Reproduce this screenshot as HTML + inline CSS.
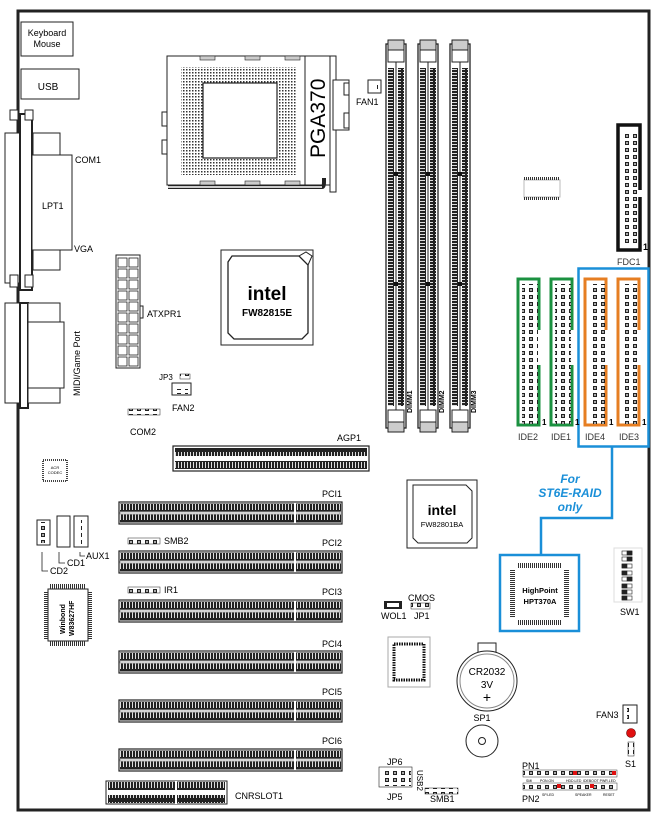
<!DOCTYPE html>
<html><head><meta charset="utf-8"><style>
html,body{margin:0;padding:0;background:#fff;}
svg{display:block;font-family:"Liberation Sans",sans-serif;}
</style></head><body>
<svg width="664" height="826" viewBox="0 0 664 826" xmlns="http://www.w3.org/2000/svg">
<defs>
<pattern id="teethH" patternUnits="userSpaceOnUse" width="3" height="10"><rect width="3" height="10" fill="#222"/><rect x="1" y="2" width="1" height="6" fill="#ddd"/></pattern>
<pattern id="teethV" patternUnits="userSpaceOnUse" width="8" height="3"><rect width="8" height="3" fill="#222"/><rect x="1" y="1" width="6" height="1" fill="#ddd"/></pattern>
<pattern id="pins" patternUnits="userSpaceOnUse" width="8" height="7"><rect x="1" y="1" width="4" height="4" fill="#222"/><rect x="2" y="2" width="2" height="2" fill="#aaa"/></pattern>
<pattern id="dots" patternUnits="userSpaceOnUse" width="3" height="3"><rect width="1.5" height="1.5" fill="#333"/></pattern>
<pattern id="legs" patternUnits="userSpaceOnUse" width="2" height="2"><rect width="1" height="2" fill="#333"/></pattern>
<pattern id="legsV" patternUnits="userSpaceOnUse" width="2" height="2"><rect width="2" height="1" fill="#333"/></pattern>
<g id="pci">
<rect x="0" y="0" width="223" height="22" fill="#fff" stroke="#222" stroke-width="1.2"/>
<rect x="1" y="1.5" width="221" height="8" fill="url(#teethH)"/>
<rect x="1" y="12.5" width="221" height="8" fill="url(#teethH)"/>
<rect x="1" y="10" width="220" height="2" fill="#fff" stroke="#555" stroke-width="0.5"/>
<rect x="175" y="1" width="2" height="20" fill="#fff"/>
</g>
<g id="dimm">
<rect x="0" y="0" width="20" height="384" fill="#fff" stroke="#222" stroke-width="1.3"/>
<rect x="2" y="-4" width="16" height="10" fill="#ccc" stroke="#222"/>
<rect x="2" y="378" width="16" height="10" fill="#ccc" stroke="#222"/>
<rect x="2" y="6" width="16" height="12" fill="#fff" stroke="#222"/>
<rect x="2" y="366" width="16" height="12" fill="#fff" stroke="#222"/>
<rect x="2" y="24" width="6" height="338" fill="url(#teethV)"/>
<rect x="12" y="24" width="6" height="338" fill="url(#teethV)"/>
<line x1="10" y1="18" x2="10" y2="366" stroke="#222"/>
<rect x="8" y="128" width="4" height="4" fill="#111"/>
<rect x="8" y="238" width="4" height="4" fill="#111"/>
</g>
</defs>

<!-- board outline -->
<path d="M18,810 L18,11 L649,11 L649,810 Z" fill="none" stroke="#222" stroke-width="3"/>

<!-- left IO -->
<rect x="21" y="22" width="52" height="34" fill="#fff" stroke="#222"/>
<text x="47" y="36" font-size="9" text-anchor="middle">Keyboard</text>
<text x="47" y="47" font-size="9" text-anchor="middle">Mouse</text>
<rect x="21" y="69" width="58" height="30" fill="#fff" stroke="#222"/>
<text x="48" y="90" font-size="10" text-anchor="middle">USB</text>

<rect x="5" y="133" width="15" height="150" fill="#fff" stroke="#222"/>
<rect x="20" y="114" width="12" height="176" fill="#fff" stroke="#222" stroke-width="2"/>
<rect x="10" y="110" width="8" height="10" fill="#fff" stroke="#222"/>
<rect x="25" y="110" width="8" height="10" fill="#fff" stroke="#222"/>
<rect x="10" y="275" width="8" height="12" fill="#fff" stroke="#222"/>
<rect x="25" y="275" width="8" height="12" fill="#fff" stroke="#222"/>
<rect x="33" y="133" width="27" height="22" fill="#fff" stroke="#222"/>
<rect x="33" y="250" width="27" height="20" fill="#fff" stroke="#222"/>
<rect x="32" y="155" width="40" height="95" fill="#fff" stroke="#222"/>
<text x="75" y="163" font-size="9">COM1</text>
<text x="42" y="209" font-size="9">LPT1</text>
<text x="74" y="252" font-size="9">VGA</text>

<rect x="5" y="303" width="16" height="100" fill="#fff" stroke="#222"/>
<rect x="20" y="303" width="8" height="105" fill="#fff" stroke="#222" stroke-width="2"/>
<rect x="28" y="303" width="32" height="100" fill="#fff" stroke="#222"/>
<rect x="28" y="322" width="36" height="66" fill="#fff" stroke="#222"/>
<text transform="translate(80,396) rotate(-90)" font-size="9">MIDI/Game Port</text>

<!-- CPU socket -->
<rect x="167" y="56" width="138" height="129" fill="#fff" stroke="#222"/>
<rect x="181" y="67" width="116" height="108" fill="url(#dots)"/>
<rect x="203" y="83" width="74" height="75" fill="#fff" stroke="#222" stroke-width="1.2"/>
<rect x="200" y="56" width="15" height="4" fill="#ccc" stroke="#222" stroke-width="0.6"/>
<rect x="245" y="56" width="15" height="4" fill="#ccc" stroke="#222" stroke-width="0.6"/>
<rect x="285" y="56" width="15" height="4" fill="#ccc" stroke="#222" stroke-width="0.6"/>
<rect x="200" y="181" width="15" height="4" fill="#ccc" stroke="#222" stroke-width="0.6"/>
<rect x="245" y="181" width="15" height="4" fill="#ccc" stroke="#222" stroke-width="0.6"/>
<rect x="285" y="181" width="15" height="4" fill="#ccc" stroke="#222" stroke-width="0.6"/>
<rect x="162" y="112" width="5" height="14" fill="#fff" stroke="#222"/>
<rect x="162" y="140" width="5" height="14" fill="#fff" stroke="#222"/>
<rect x="305" y="56" width="25" height="129" fill="#fff" stroke="#222"/>
<rect x="330" y="56" width="6" height="136" fill="#fff" stroke="#222"/>
<rect x="333" y="80" width="16" height="50" fill="#fff" stroke="#222"/>
<rect x="344" y="83" width="5" height="12" fill="#fff" stroke="#222"/>
<rect x="344" y="113" width="5" height="15" fill="#fff" stroke="#222"/>
<path d="M168,187 L322,187 Q324,187 324,182 L324,178" fill="none" stroke="#222" stroke-width="4"/>
<path d="M168,187 L322,187" stroke="#ccc" stroke-width="2"/>
<text transform="translate(325,158) rotate(-90)" font-size="21">PGA370</text>
<rect x="368" y="80" width="13" height="13" fill="#fff" stroke="#222"/>
<rect x="373" y="82" width="5" height="9" fill="url(#pins)"/>
<text x="356" y="105" font-size="9">FAN1</text>

<!-- DIMMs -->
<use href="#dimm" x="386" y="44"/>
<use href="#dimm" x="418" y="44"/>
<use href="#dimm" x="450" y="44"/>
<text transform="translate(412,413) rotate(-90)" font-size="7" font-weight="bold">DIMM1</text>
<text transform="translate(444,413) rotate(-90)" font-size="7" font-weight="bold">DIMM2</text>
<text transform="translate(476,413) rotate(-90)" font-size="7" font-weight="bold">DIMM3</text>

<!-- small chip -->
<rect x="524" y="180" width="36" height="17" fill="#fff" stroke="#bbb"/>
<rect x="524" y="177" width="36" height="3" fill="url(#legs)"/>
<rect x="524" y="197" width="36" height="3" fill="url(#legs)"/>

<!-- FDC1 -->
<path d="M640,190 L640,125 L618,125 L618,250 L640,250 L640,197" fill="none" stroke="#111" stroke-width="3.5"/>
<rect x="622" y="133" width="16" height="112" fill="url(#pins)"/>
<text x="643" y="250" font-size="9" font-weight="bold">1</text>
<text x="617" y="265" font-size="9" fill="#333">FDC1</text>

<!-- IDE -->
<rect x="578.5" y="268.5" width="70" height="178" fill="none" stroke="#1a8fd8" stroke-width="2.5"/>
<g fill="none" stroke-width="3">
<path d="M539,330 L539,279 L518,279 L518,425 L539,425 L539,365" stroke="#1b9140"/>
<path d="M572,330 L572,279 L551,279 L551,425 L572,425 L572,365" stroke="#1b9140"/>
<path d="M606,330 L606,279 L585,279 L585,425 L606,425 L606,365" stroke="#e67e22"/>
<path d="M639,330 L639,279 L618,279 L618,425 L639,425 L639,365" stroke="#e67e22"/>
</g>
<rect x="522" y="284" width="16" height="140" fill="url(#pins)"/>
<rect x="555" y="284" width="16" height="140" fill="url(#pins)"/>
<rect x="589" y="284" width="16" height="140" fill="url(#pins)"/>
<rect x="622" y="284" width="16" height="140" fill="url(#pins)"/>
<g font-size="8" font-weight="bold"><text x="542" y="425">1</text><text x="575" y="425">1</text><text x="609" y="425">1</text><text x="642" y="425">1</text></g>
<g font-size="9" fill="#333"><text x="518" y="440">IDE2</text><text x="551" y="440">IDE1</text><text x="585" y="440">IDE4</text><text x="619" y="440">IDE3</text></g>
<path d="M612,447 L612,518 L541,518 L541,555" fill="none" stroke="#1a8fd8" stroke-width="2.5"/>
<g fill="#1a8fd8" font-size="12" font-weight="bold" font-style="italic" text-anchor="middle">
<text x="570" y="483">For</text><text x="570" y="497">ST6E-RAID</text><text x="570" y="511">only</text></g>
<rect x="500" y="555" width="79" height="76" fill="#fff" stroke="#1a8fd8" stroke-width="2.5"/>
<rect x="517" y="566" width="45" height="56" fill="#fff"/>
<rect x="517" y="563" width="45" height="5" fill="url(#legs)"/>
<rect x="517" y="620" width="45" height="5" fill="url(#legs)"/>
<rect x="510" y="570" width="5" height="48" fill="url(#legsV)"/>
<rect x="564" y="570" width="5" height="48" fill="url(#legsV)"/>
<text x="540" y="593" font-size="7.5" font-weight="bold" text-anchor="middle">HighPoint</text>
<text x="540" y="604" font-size="7.5" font-weight="bold" text-anchor="middle">HPT370A</text>

<!-- intel 815 -->
<rect x="221" y="250" width="92" height="95" fill="#fff" stroke="#222"/>
<path d="M232,256 L299,256 L308,265 L308,333 L302,339 L234,339 L228,333 L228,262 Z" fill="#fff" stroke="#222" stroke-width="1.3"/>
<path d="M299,256 L306,252 L312,256 L308,265" fill="none" stroke="#222"/>
<text x="267" y="300" font-size="19" font-weight="bold" text-anchor="middle">intel</text>
<text x="267" y="316" font-size="10" font-weight="bold" text-anchor="middle">FW82815E</text>

<!-- intel 801 -->
<rect x="407" y="480" width="70" height="68" fill="#fff" stroke="#222"/>
<path d="M413,485 L466,485 L472,491 L472,538 L467,543 L418,543 L413,538 Z" fill="#fff" stroke="#222"/>
<text x="442" y="515" font-size="14" font-weight="bold" text-anchor="middle">intel</text>
<text x="442" y="527" font-size="7.5" text-anchor="middle">FW82801BA</text>

<!-- ATXPR1 -->
<rect x="116" y="255" width="24" height="113" fill="#fff" stroke="#222"/>
<rect x="140" y="306" width="3" height="12" fill="#fff" stroke="#222"/>
<g fill="#fff" stroke="#222" stroke-width="0.8">
<rect x="118" y="258" width="9" height="9"/><rect x="129" y="258" width="9" height="9"/>
<rect x="118" y="269" width="9" height="9"/><rect x="129" y="269" width="9" height="9"/>
<rect x="118" y="280" width="9" height="9"/><rect x="129" y="280" width="9" height="9"/>
<rect x="118" y="291" width="9" height="9"/><rect x="129" y="291" width="9" height="9"/>
<rect x="118" y="302" width="9" height="9"/><rect x="129" y="302" width="9" height="9"/>
<rect x="118" y="313" width="9" height="9"/><rect x="129" y="313" width="9" height="9"/>
<rect x="118" y="324" width="9" height="9"/><rect x="129" y="324" width="9" height="9"/>
<rect x="118" y="335" width="9" height="9"/><rect x="129" y="335" width="9" height="9"/>
<rect x="118" y="346" width="9" height="9"/><rect x="129" y="346" width="9" height="9"/>
<rect x="118" y="357" width="9" height="9"/><rect x="129" y="357" width="9" height="9"/>
</g>
<text x="147" y="317" font-size="9">ATXPR1</text>

<text x="159" y="380" font-size="8">JP3</text>
<rect x="180" y="374" width="10" height="5" fill="url(#pins)" stroke="#222" stroke-width="0.5"/>
<rect x="172" y="383" width="19" height="12" fill="#fff" stroke="#222"/>
<rect x="175" y="389" width="13" height="5" fill="url(#pins)"/>
<text x="172" y="411" font-size="9">FAN2</text>
<rect x="128" y="409" width="32" height="6" fill="url(#pins)" stroke="#222" stroke-width="0.5"/>
<text x="130" y="435" font-size="9">COM2</text>

<!-- AGP -->
<text x="337" y="441" font-size="9">AGP1</text>
<rect x="173" y="446" width="196" height="25" fill="#fff" stroke="#222" stroke-width="1.2"/>
<rect x="175" y="448" width="192" height="8" fill="url(#teethH)"/>
<rect x="175" y="461" width="192" height="8" fill="url(#teethH)"/>

<!-- PCI -->
<g font-size="9" text-anchor="end">
<text x="342" y="497">PCI1</text><text x="342" y="546">PCI2</text><text x="342" y="595">PCI3</text>
<text x="342" y="647">PCI4</text><text x="342" y="695">PCI5</text><text x="342" y="744">PCI6</text></g>
<use href="#pci" x="119" y="502"/>
<use href="#pci" x="119" y="551"/>
<use href="#pci" x="119" y="600"/>
<use href="#pci" x="119" y="651"/>
<use href="#pci" x="119" y="700"/>
<use href="#pci" x="119" y="749"/>

<!-- CNR -->
<rect x="106" y="781" width="121" height="23" fill="#fff" stroke="#222"/>
<rect x="108" y="782" width="117" height="8" fill="url(#teethH)"/>
<rect x="108" y="795" width="117" height="8" fill="url(#teethH)"/>
<rect x="175" y="781" width="2" height="23" fill="#fff"/>
<text x="235" y="799" font-size="9">CNRSLOT1</text>

<!-- ACR chip -->
<rect x="43" y="460" width="24" height="21" fill="#fff" stroke="#444" stroke-width="2" stroke-dasharray="1,1"/>
<text x="55" y="469" font-size="4" text-anchor="middle">ACR</text>
<text x="55" y="474" font-size="4" text-anchor="middle">CODEC</text>

<!-- CD / AUX -->
<rect x="37" y="520" width="13" height="25" fill="#fff" stroke="#222"/>
<rect x="57" y="516" width="13" height="31" fill="#fff" stroke="#222"/>
<rect x="74" y="516" width="14" height="31" fill="#fff" stroke="#222"/>
<rect x="41" y="522" width="4" height="21" fill="url(#pins)"/>
<rect x="61" y="520" width="4" height="24" fill="url(#pins)"/>
<rect x="78" y="520" width="4" height="24" fill="url(#pins)"/>
<path d="M42,552 L42,571 L48,571 M59,552 L59,563 L65,563 M80,552 L80,556 L85,556" fill="none" stroke="#222" stroke-width="0.8"/>
<text x="50" y="574" font-size="9">CD2</text><text x="67" y="566" font-size="9">CD1</text><text x="86" y="559" font-size="9">AUX1</text>

<!-- Winbond -->
<rect x="48" y="589" width="40" height="52" fill="#fff" stroke="#222"/>
<rect x="50" y="584" width="36" height="5" fill="url(#legs)"/>
<rect x="50" y="641" width="36" height="5" fill="url(#legs)"/>
<rect x="44" y="591" width="4" height="48" fill="url(#legsV)"/>
<rect x="88" y="591" width="4" height="48" fill="url(#legsV)"/>
<text transform="translate(65,634) rotate(-90)" font-size="7" font-weight="bold">Winbond</text>
<text transform="translate(74,636) rotate(-90)" font-size="7" font-weight="bold">W83627HF</text>

<!-- SMB2 IR1 -->
<rect x="128" y="538" width="32" height="6" fill="url(#pins)" stroke="#222" stroke-width="0.5"/>
<text x="164" y="544" font-size="9">SMB2</text>
<rect x="128" y="587" width="32" height="6" fill="url(#pins)" stroke="#222" stroke-width="0.5"/>
<text x="164" y="593" font-size="9">IR1</text>

<!-- WOL / JP1 -->
<text x="408" y="601" font-size="9">CMOS</text>
<rect x="384" y="601" width="18" height="8" fill="#222"/>
<rect x="387" y="603" width="12" height="4" fill="#fff"/>
<rect x="411" y="603" width="19" height="6" fill="url(#pins)" stroke="#222" stroke-width="0.5"/>
<text x="381" y="619" font-size="9">WOL1</text>
<text x="414" y="619" font-size="9">JP1</text>

<!-- square chip -->
<rect x="388" y="637" width="42" height="50" fill="#fff" stroke="#aaa" stroke-width="1"/>
<rect x="394" y="644" width="30" height="36" fill="#fff" stroke="#111" stroke-width="3" stroke-dasharray="1.5,1"/>

<!-- battery -->
<path d="M478,652 L478,643 L496,643 L496,652" fill="none" stroke="#222"/>
<circle cx="487" cy="681" r="30" fill="#fff" stroke="#222"/>
<circle cx="487" cy="681" r="27" fill="none" stroke="#888"/>
<text x="487" y="675" font-size="10" text-anchor="middle">CR2032</text>
<text x="487" y="688" font-size="10" text-anchor="middle">3V</text>
<text x="487" y="702" font-size="14" text-anchor="middle">+</text>
<text x="482" y="721" font-size="9" text-anchor="middle">SP1</text>
<circle cx="482" cy="741" r="16" fill="#fff" stroke="#222"/>
<circle cx="482" cy="741" r="3.5" fill="none" stroke="#222"/>

<!-- SW1 -->
<rect x="614" y="548" width="28" height="54" fill="#fff" stroke="#ddd"/>
<g fill="#222" stroke="#222" stroke-width="0.6">
<rect x="622" y="551" width="10" height="4" fill="#fff"/><rect x="627" y="551" width="5" height="4"/>
<rect x="622" y="557" width="10" height="4" fill="#fff"/><rect x="627" y="557" width="5" height="4"/>
<rect x="622" y="564" width="10" height="4" fill="#fff"/><rect x="622" y="564" width="5" height="4"/>
<rect x="622" y="571" width="10" height="4" fill="#fff"/><rect x="622" y="571" width="5" height="4"/>
<rect x="622" y="577" width="10" height="4" fill="#fff"/><rect x="627" y="577" width="5" height="4"/>
<rect x="622" y="584" width="10" height="4" fill="#fff"/><rect x="622" y="584" width="5" height="4"/>
<rect x="622" y="590" width="10" height="4" fill="#fff"/><rect x="622" y="590" width="5" height="4"/>
<rect x="622" y="596" width="10" height="4" fill="#fff"/><rect x="622" y="596" width="5" height="4"/>
</g>
<text x="620" y="615" font-size="9">SW1</text>

<!-- FAN3 / S1 -->
<text x="596" y="718" font-size="9">FAN3</text>
<rect x="623" y="705" width="14" height="18" fill="#fff" stroke="#222"/>
<rect x="627" y="708" width="4" height="13" fill="url(#pins)"/>
<circle cx="631" cy="733" r="4.5" fill="#e01010" stroke="#600" stroke-width="0.6"/>
<rect x="628" y="742" width="6" height="14" fill="url(#pins)" stroke="#222" stroke-width="0.5"/>
<text x="625" y="767" font-size="9">S1</text>

<!-- JP6/JP5 -->
<text x="387" y="765" font-size="9">JP6</text>
<rect x="379" y="767" width="33" height="20" fill="#fff" stroke="#222" stroke-width="0.6"/>
<rect x="385" y="768" width="26" height="18" fill="url(#pins)"/>
<text transform="translate(417,770) rotate(90)" font-size="8">USB2</text>
<text x="387" y="800" font-size="9">JP5</text>
<rect x="425" y="788" width="33" height="6" fill="url(#pins)" stroke="#222" stroke-width="0.5"/>
<text x="430" y="802" font-size="9">SMB1</text>

<!-- PN1/PN2 -->
<text x="522" y="769" font-size="9">PN1</text>
<rect x="523" y="770" width="94" height="7" fill="url(#pins)" stroke="#333" stroke-width="0.5"/>
<rect x="523" y="783" width="94" height="7" fill="url(#pins)" stroke="#333" stroke-width="0.5"/>
<g fill="#e01010"><rect x="573" y="771" width="4" height="4"/><rect x="612" y="771" width="4" height="4"/><rect x="557" y="784" width="4" height="4"/><rect x="590" y="784" width="4" height="4"/></g>
<g font-size="3.5"><text x="526" y="782">SMI</text><text x="540" y="782">PON.ON</text><text x="566" y="782">HDD.LED</text><text x="583" y="782">IDEBOOT PWR.LED</text>
<text x="542" y="796">SP.LED</text><text x="575" y="796">SPEAKER</text><text x="603" y="796">RESET</text></g>
<text x="522" y="802" font-size="9">PN2</text>
</svg>
</body></html>
